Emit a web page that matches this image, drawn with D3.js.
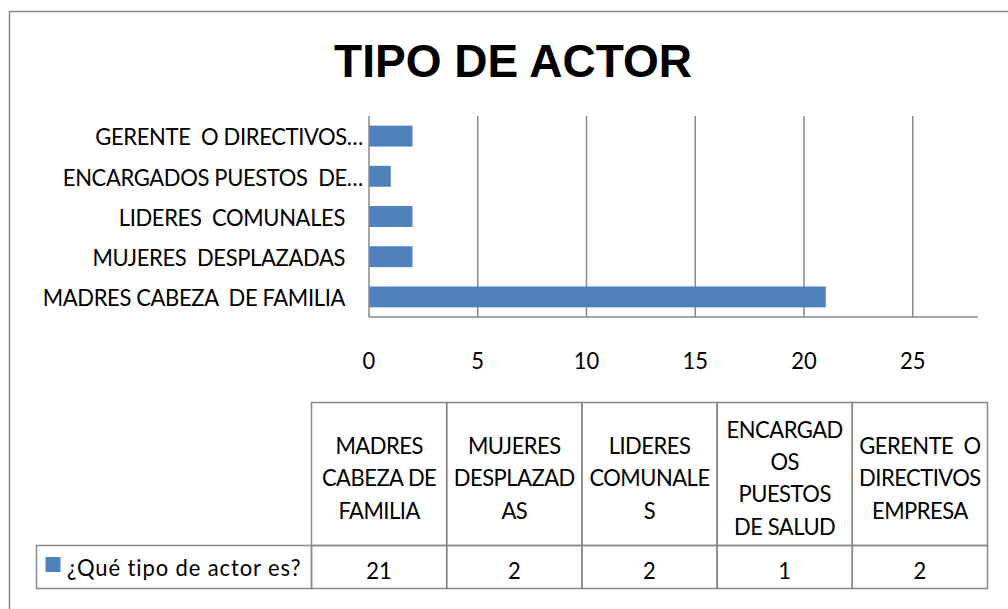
<!DOCTYPE html>
<html>
<head>
<meta charset="utf-8">
<script src="https://cdn.jsdelivr.net/npm/d3@7"></script>
<style>
  html, body { margin: 0; padding: 0; background: #fff; }
  svg { display: block; }
  text { white-space: pre; }
</style>
</head>
<body>
<svg id="chart" width="1008" height="609"></svg>
<script>
// ---- data ----
const title = "TIPO DE ACTOR";
const categories = [
  "MADRES CABEZA DE FAMILIA",
  "MUJERES DESPLAZADAS",
  "LIDERES COMUNALES",
  "ENCARGADOS PUESTOS DE SALUD",
  "GERENTE O DIRECTIVOS EMPRESA"
];
const axisLabels = [
  "MADRES CABEZA  DE FAMILIA",
  "MUJERES  DESPLAZADAS",
  "LIDERES  COMUNALES",
  "ENCARGADOS PUESTOS  DE…",
  "GERENTE  O DIRECTIVOS…"
];
const values = [21, 2, 2, 1, 2];
const seriesName = "¿Qué tipo de actor es?";
const xTicks = [0, 5, 10, 15, 20, 25];
const tableHeaders = [
  ["MADRES", "CABEZA DE", "FAMILIA"],
  ["MUJERES", "DESPLAZAD", "AS"],
  ["LIDERES", "COMUNALE", "S"],
  ["ENCARGAD", "OS", "PUESTOS", "DE SALUD"],
  ["GERENTE  O", "DIRECTIVOS", "EMPRESA"]
];

// ---- styles ----
const barColor = "#4F81BD";
const lineColor = "#898989";
const textFont = "Lato, 'Liberation Sans', sans-serif";
const textSize = 22;
const stretchY = 1.08;

const svg = d3.select("#chart");

// helper: text slightly stretched vertically (tall, narrow look of the original)
function addText(g, x, y, str, anchor, spacing) {
  return g.append("text")
    .attr("transform", `translate(${x},${y}) scale(1,${stretchY})`)
    .attr("x", 0).attr("y", 0)
    .attr("dy", "0.35em")
    .attr("text-anchor", anchor)
    .attr("font-family", textFont)
    .attr("font-size", textSize)
    .attr("letter-spacing", spacing)
    .attr("fill", "#000")
    .text(str);
}

// outer chart border (only left and top are inside the view)
svg.append("path")
  .attr("d", "M9.5,609 L9.5,11.5 L1008,11.5")
  .attr("fill", "none")
  .attr("stroke", lineColor)
  .attr("stroke-width", 1.5);

// title
svg.append("text")
  .attr("x", 513)
  .attr("y", 77)
  .attr("text-anchor", "middle")
  .attr("font-family", "'Liberation Sans', Arial, sans-serif")
  .attr("font-weight", "bold")
  .attr("font-size", 46)
  .attr("fill", "#000")
  .text(title);

// scales
const plotTop = 116, plotBottom = 317;
const x = d3.scaleLinear().domain([0, 28]).range([369, 978]);
const y = d3.scaleBand()
  .domain(categories.slice().reverse())
  .range([plotTop, plotBottom])
  .paddingInner(0.48)
  .paddingOuter(0.24);

// gridlines
svg.append("g")
  .selectAll("line")
  .data(xTicks.filter(d => d > 0))
  .join("line")
  .attr("x1", d => x(d)).attr("x2", d => x(d))
  .attr("y1", plotTop).attr("y2", plotBottom)
  .attr("stroke", lineColor)
  .attr("stroke-width", 1.5);

// bars
svg.append("g")
  .selectAll("rect")
  .data(categories)
  .join("rect")
  .attr("x", x(0))
  .attr("y", d => y(d))
  .attr("width", (d, i) => x(values[i]) - x(0))
  .attr("height", y.bandwidth())
  .attr("fill", barColor);

// axes lines
svg.append("line")
  .attr("x1", x(0)).attr("x2", x(0))
  .attr("y1", plotTop).attr("y2", plotBottom)
  .attr("stroke", lineColor).attr("stroke-width", 1.5);
svg.append("line")
  .attr("x1", x(0)).attr("x2", x.range()[1])
  .attr("y1", plotBottom).attr("y2", plotBottom)
  .attr("stroke", lineColor).attr("stroke-width", 1.5);

// x tick labels
const gx = svg.append("g");
xTicks.forEach(d => addText(gx, x(d), 361, String(d), "middle", 0));

// y category labels
const gy = svg.append("g");
categories.forEach((c, i) => {
  const lab = axisLabels[i];
  addText(gy, lab.endsWith("…") ? 363 : 345, y(c) + y.bandwidth() / 2 + 1, lab, "end", -0.35);
});

// ---- data table ----
const tLeft = 311, tRight = 987;
const hTop = 402.5, hBottom = 545.5, dBottom = 588.5;
const legendLeft = 36.5;
const col = d3.scaleBand().domain(categories).range([tLeft, tRight]);

const tg = svg.append("g");
// header cells
tg.selectAll("rect.h")
  .data(categories)
  .join("rect")
  .attr("class", "h")
  .attr("x", d => col(d) + 0.5)
  .attr("y", hTop)
  .attr("width", col.bandwidth())
  .attr("height", hBottom - hTop)
  .attr("fill", "none")
  .attr("stroke", lineColor)
  .attr("stroke-width", 1.5);
// data cells
tg.selectAll("rect.d")
  .data(categories)
  .join("rect")
  .attr("class", "d")
  .attr("x", d => col(d) + 0.5)
  .attr("y", hBottom)
  .attr("width", col.bandwidth())
  .attr("height", dBottom - hBottom)
  .attr("fill", "none")
  .attr("stroke", lineColor)
  .attr("stroke-width", 1.5);
// legend cell
tg.append("rect")
  .attr("x", legendLeft)
  .attr("y", hBottom)
  .attr("width", tLeft + 0.5 - legendLeft)
  .attr("height", dBottom - hBottom)
  .attr("fill", "none")
  .attr("stroke", lineColor)
  .attr("stroke-width", 1.5);

// header text
const lineH = 32.3;
const hCenter = 478;
categories.forEach((c, i) => {
  const lines = tableHeaders[i];
  lines.forEach((ln, k) => {
    addText(tg, col(c) + col.bandwidth() / 2 + 0.5,
      hCenter + (k - (lines.length - 1) / 2) * lineH, ln, "middle", -0.5);
  });
});

// values
categories.forEach((c, i) => {
  addText(tg, col(c) + col.bandwidth() / 2 + 0.5, 571, String(values[i]), "middle", 0);
});

// legend key + series name
tg.append("rect")
  .attr("x", 45.5).attr("y", 557)
  .attr("width", 15).attr("height", 15)
  .attr("fill", barColor);
addText(tg, 67, 568, seriesName, "start", 0.9);
</script>
</body>
</html>
